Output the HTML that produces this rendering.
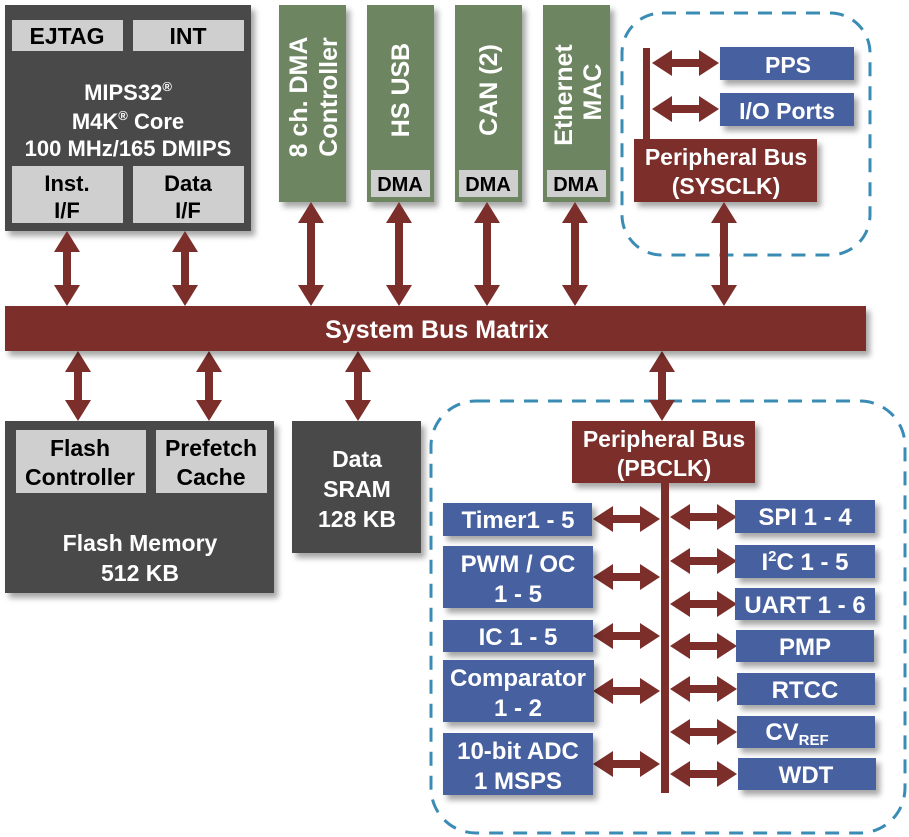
<!DOCTYPE html>
<html><head><meta charset="utf-8"><style>
html,body{margin:0;padding:0;background:#fff;}
svg{display:block;}
text{font-family:"Liberation Sans",sans-serif;font-weight:bold;}
</style></head><body>
<svg width="909" height="837" viewBox="0 0 909 837" xmlns="http://www.w3.org/2000/svg">
<defs>
<filter id="sh" x="-10%" y="-10%" width="130%" height="130%"><feDropShadow dx="4" dy="5" stdDeviation="3" flood-color="#000" flood-opacity="0.35"/></filter>
<polygon id="h" points="0,0 20,-13 20,-4 47,-4 47,-13 67,0 47,13 47,4 20,4 20,13" fill="#7b2e2a"/>
</defs>

<rect x="622" y="13" width="248" height="242" rx="40" fill="none" stroke="#3a8cb5" stroke-width="3" stroke-dasharray="14,10"/>
<rect x="431" y="401" width="474" height="432" rx="45" fill="none" stroke="#3a8cb5" stroke-width="3" stroke-dasharray="14,10"/>

<!-- CPU -->
<rect x="5" y="5" width="246" height="226" fill="#4a4a4a" filter="url(#sh)"/>
<rect x="12" y="20" width="111" height="31" fill="#cfcfcf"/>
<rect x="133" y="20" width="111" height="31" fill="#cfcfcf"/>
<text x="67" y="44" font-size="23" text-anchor="middle" fill="#000">EJTAG</text>
<text x="188" y="44" font-size="23" text-anchor="middle" fill="#000">INT</text>
<text x="128" y="100" font-size="22" text-anchor="middle" fill="#fff">MIPS32<tspan font-size="13" dy="-9">®</tspan></text>
<text x="128" y="129" font-size="22" text-anchor="middle" fill="#fff">M4K<tspan font-size="13" dy="-9">®</tspan><tspan dy="9"> Core</tspan></text>
<text x="128" y="156" font-size="22" text-anchor="middle" fill="#fff">100 MHz/165 DMIPS</text>
<rect x="12" y="166" width="111" height="57" fill="#cfcfcf"/>
<rect x="133" y="166" width="111" height="57" fill="#cfcfcf"/>
<text x="67" y="191" font-size="22" text-anchor="middle">Inst.</text>
<text x="67" y="218" font-size="22" text-anchor="middle">I/F</text>
<text x="188" y="191" font-size="22" text-anchor="middle">Data</text>
<text x="188" y="218" font-size="22" text-anchor="middle">I/F</text>

<!-- green columns -->
<g filter="url(#sh)" fill="#6d8560">
<rect x="279" y="5" width="67" height="197"/>
<rect x="367" y="5" width="67" height="197"/>
<rect x="455" y="5" width="67" height="197"/>
<rect x="543" y="5" width="67" height="197"/>
</g>
<g fill="#cfcfcf">
<rect x="371" y="170" width="59" height="27"/>
<rect x="459" y="170" width="59" height="27"/>
<rect x="547" y="170" width="59" height="27"/>
</g>
<g font-size="20" text-anchor="middle">
<text x="400" y="191">DMA</text><text x="488" y="191">DMA</text><text x="576" y="191">DMA</text>
</g>
<g fill="#fff" font-size="25" text-anchor="middle">
<text transform="translate(307,97) rotate(-90)">8 ch. DMA</text>
<text transform="translate(337,97) rotate(-90)">Controller</text>
<text transform="translate(409,90) rotate(-90)">HS USB</text>
<text transform="translate(497,90) rotate(-90)">CAN (2)</text>
<text transform="translate(572,95) rotate(-90)">Ethernet</text>
<text transform="translate(601,92) rotate(-90)">MAC</text>
</g>

<!-- top-right peripheral bus -->
<rect x="643" y="48" width="7" height="92" fill="#7b2e2a"/>
<use href="#h" transform="translate(652,63)"/>
<use href="#h" transform="translate(652,109)"/>
<g filter="url(#sh)">
<rect x="720" y="47" width="134" height="33" fill="#4760a0"/>
<rect x="720" y="93" width="134" height="33" fill="#4760a0"/>
<rect x="634" y="139" width="183" height="63" fill="#7b2e2a"/>
</g>
<g fill="#fff" font-size="23" text-anchor="middle">
<text x="788" y="73">PPS</text>
<text x="787" y="119">I/O Ports</text>
<text x="726" y="165">Peripheral Bus</text>
<text x="726" y="194">(SYSCLK)</text>
</g>

<g fill="#7b2e2a">
<polygon points="67,231 80,252 71,252 71,285 80,285 67,306 54,285 63,285 63,252 54,252"/>
<polygon points="185,231 198,252 189,252 189,285 198,285 185,306 172,285 181,285 181,252 172,252"/>
<polygon points="311,202 324,223 315,223 315,285 324,285 311,306 298,285 307,285 307,223 298,223"/>
<polygon points="399,202 412,223 403,223 403,285 412,285 399,306 386,285 395,285 395,223 386,223"/>
<polygon points="487,202 500,223 491,223 491,285 500,285 487,306 474,285 483,285 483,223 474,223"/>
<polygon points="575,202 588,223 579,223 579,285 588,285 575,306 562,285 571,285 571,223 562,223"/>
<polygon points="724,202 737,223 728,223 728,285 737,285 724,306 711,285 720,285 720,223 711,223"/>
<polygon points="78,351 91,372 82,372 82,400 91,400 78,421 65,400 74,400 74,372 65,372"/>
<polygon points="209,351 222,372 213,372 213,400 222,400 209,421 196,400 205,400 205,372 196,372"/>
<polygon points="358,351 371,372 362,372 362,400 371,400 358,421 345,400 354,400 354,372 345,372"/>
<polygon points="662,351 675,372 666,372 666,400 675,400 662,421 649,400 658,400 658,372 649,372"/>
</g>

<rect x="5" y="306" width="861" height="45" fill="#7b2e2a" filter="url(#sh)"/>
<text x="437" y="338" font-size="25" fill="#fff" text-anchor="middle">System Bus Matrix</text>

<!-- flash -->
<rect x="5" y="421" width="269" height="172" fill="#4a4a4a" filter="url(#sh)"/>
<rect x="16" y="430" width="130" height="63" fill="#cfcfcf"/>
<rect x="156" y="430" width="111" height="63" fill="#cfcfcf"/>
<g font-size="23" text-anchor="middle">
<text x="80" y="456">Flash</text><text x="80" y="485">Controller</text>
<text x="211" y="456">Prefetch</text><text x="211" y="485">Cache</text>
</g>
<text x="140" y="551" font-size="23" fill="#fff" text-anchor="middle">Flash Memory</text>
<text x="140" y="581" font-size="23" fill="#fff" text-anchor="middle">512 KB</text>
<rect x="292" y="421" width="129" height="132" fill="#4a4a4a" filter="url(#sh)"/>
<g font-size="23" fill="#fff" text-anchor="middle">
<text x="357" y="467">Data</text><text x="357" y="497">SRAM</text><text x="357" y="527">128 KB</text>
</g>

<rect x="572" y="421" width="183" height="62" fill="#7b2e2a" filter="url(#sh)"/>
<text x="664" y="447" font-size="23" fill="#fff" text-anchor="middle">Peripheral Bus</text>
<text x="664" y="476" font-size="23" fill="#fff" text-anchor="middle">(PBCLK)</text>
<rect x="661" y="483" width="8" height="310" fill="#7b2e2a"/>

<g>
<use href="#h" transform="translate(593,519)"/>
<use href="#h" transform="translate(593,577)"/>
<use href="#h" transform="translate(593,636)"/>
<use href="#h" transform="translate(593,691)"/>
<use href="#h" transform="translate(593,764)"/>
<use href="#h" transform="translate(670,517)"/>
<use href="#h" transform="translate(670,561)"/>
<use href="#h" transform="translate(670,604)"/>
<use href="#h" transform="translate(670,646)"/>
<use href="#h" transform="translate(670,689)"/>
<use href="#h" transform="translate(670,732)"/>
<use href="#h" transform="translate(670,774)"/>
</g>

<g fill="#4760a0" filter="url(#sh)">
<rect x="443" y="503" width="149" height="33"/>
<rect x="443" y="546" width="150" height="62"/>
<rect x="443" y="620" width="150" height="32"/>
<rect x="443" y="660" width="151" height="62"/>
<rect x="443" y="733" width="150" height="62"/>
<rect x="735" y="500" width="140" height="33"/>
<rect x="735" y="545" width="140" height="33"/>
<rect x="735" y="588" width="140" height="32"/>
<rect x="736" y="630" width="138" height="32"/>
<rect x="737" y="673" width="138" height="32"/>
<rect x="737" y="716" width="138" height="32"/>
<rect x="738" y="758" width="138" height="32"/>
</g>
<g fill="#fff" font-size="24" text-anchor="middle">
<text x="518" y="528">Timer1 - 5</text>
<text x="518" y="572">PWM / OC</text><text x="518" y="602">1 - 5</text>
<text x="518" y="645">IC 1 - 5</text>
<text x="518" y="686">Comparator</text><text x="518" y="716">1 - 2</text>
<text x="518" y="759">10-bit ADC</text><text x="518" y="789">1 MSPS</text>
<text x="805" y="525">SPI 1 - 4</text>
<text x="805" y="570">I<tspan font-size="15" dy="-9">2</tspan><tspan dy="9">C 1 - 5</tspan></text>
<text x="805" y="613">UART 1 - 6</text>
<text x="805" y="655">PMP</text>
<text x="805" y="698">RTCC</text>
<text x="797" y="740">CV<tspan font-size="15" dy="5">REF</tspan></text>
<text x="806" y="783">WDT</text>
</g>
</svg>
</body></html>
